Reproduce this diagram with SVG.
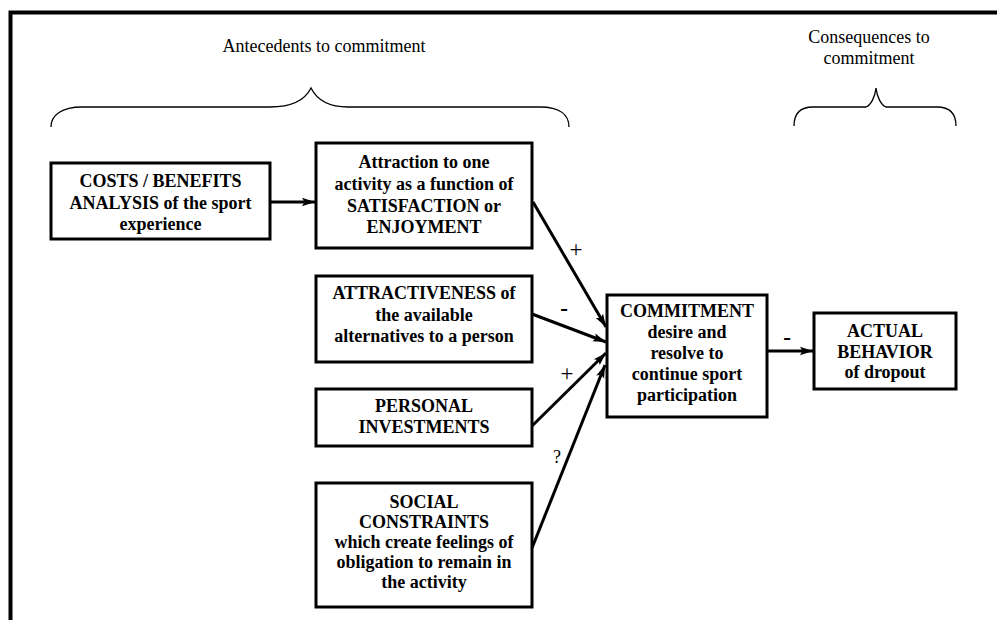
<svg xmlns="http://www.w3.org/2000/svg" width="997" height="620" viewBox="0 0 997 620">
  <style>
    .box { fill: #fff; stroke: #000; stroke-width: 3; }
    .t { font-family: "Liberation Serif", "Times New Roman", serif; font-size: 18px; font-weight: bold; text-anchor: middle; fill: #000; }
    .h { font-family: "Liberation Serif", "Times New Roman", serif; font-size: 18px; text-anchor: middle; fill: #000; }
    .lbl { font-family: "Liberation Serif", "Times New Roman", serif; font-size: 23px; text-anchor: middle; fill: #000; }
    .neg { font-weight: bold; }
    .edge { fill: none; stroke: #000; stroke-width: 3; marker-end: url(#arrow); }
    .brace { fill: none; stroke: #000; stroke-width: 1.3; }
  </style>
  <defs>
    <marker id="arrow" markerUnits="userSpaceOnUse" markerWidth="14" markerHeight="10" refX="13" refY="5" orient="auto">
      <path d="M0,0.8 L13,5 L0,9.2 L2.5,5 Z" fill="#000"/>
    </marker>
  </defs>

  <rect width="997" height="620" fill="#fff"/>

  <!-- outer frame (top and left edges) -->
  <path d="M997,12.5 H10.5 V620" fill="none" stroke="#000" stroke-width="4"/>

  <!-- section headings and braces -->
  <g id="antecedents-heading">
    <text class="h" x="324" y="52">Antecedents to commitment</text>
    <path class="brace" d="M51,127 C51,115 62,107 82,107 H270 C292,107 305,100 311,88 C317,100 330,107 348,107 H540 C560,107 569,115 569,127"/>
  </g>
  <g id="consequences-heading">
    <text class="h" x="869" y="43">Consequences to</text>
    <text class="h" x="869" y="64">commitment</text>
    <path class="brace" d="M794,126 C794,114 800,107 813,107 H866 C871,105 875,97 876,88 C877,97 881,105 886,107 H937 C950,107 956,114 956,126"/>
  </g>

  <!-- nodes -->
  <g id="costs-benefits">
    <rect class="box" x="51" y="163" width="219" height="76"/>
    <text class="t" x="160.5" y="187">COSTS / BENEFITS</text>
    <text class="t" x="160.5" y="209">ANALYSIS of the sport</text>
    <text class="t" x="160.5" y="230">experience</text>
  </g>
  <g id="attraction">
    <rect class="box" x="316" y="143" width="216" height="105"/>
    <text class="t" x="424" y="168">Attraction to one</text>
    <text class="t" x="424" y="190">activity as a function of</text>
    <text class="t" x="424" y="212">SATISFACTION or</text>
    <text class="t" x="424" y="233">ENJOYMENT</text>
  </g>
  <g id="alternatives">
    <rect class="box" x="316" y="276" width="216" height="86"/>
    <text class="t" x="424" y="299">ATTRACTIVENESS of</text>
    <text class="t" x="424" y="321">the available</text>
    <text class="t" x="424" y="342">alternatives to a person</text>
  </g>
  <g id="investments">
    <rect class="box" x="316" y="389" width="216" height="57"/>
    <text class="t" x="424" y="412">PERSONAL</text>
    <text class="t" x="424" y="433">INVESTMENTS</text>
  </g>
  <g id="social-constraints">
    <rect class="box" x="316" y="483" width="216" height="124"/>
    <text class="t" x="424" y="508">SOCIAL</text>
    <text class="t" x="424" y="528">CONSTRAINTS</text>
    <text class="t" x="424" y="548">which create feelings of</text>
    <text class="t" x="424" y="568">obligation to remain in</text>
    <text class="t" x="424" y="588">the activity</text>
  </g>
  <g id="commitment">
    <rect class="box" x="607" y="295" width="160" height="122"/>
    <text class="t" x="687" y="317">COMMITMENT</text>
    <text class="t" x="687" y="338">desire and</text>
    <text class="t" x="687" y="359">resolve to</text>
    <text class="t" x="687" y="380">continue sport</text>
    <text class="t" x="687" y="401">participation</text>
  </g>
  <g id="dropout">
    <rect class="box" x="814" y="313" width="142" height="76"/>
    <text class="t" x="885" y="337">ACTUAL</text>
    <text class="t" x="885" y="358">BEHAVIOR</text>
    <text class="t" x="885" y="378">of dropout</text>
  </g>

  <!-- connectors -->
  <g id="connectors">
    <line class="edge" x1="270" y1="202" x2="315" y2="202"/>
    <line class="edge" x1="533" y1="202" x2="606" y2="327"/>
    <line class="edge" x1="532" y1="314" x2="606" y2="342"/>
    <line class="edge" x1="532" y1="426" x2="606" y2="353"/>
    <line class="edge" x1="532" y1="548" x2="605" y2="365"/>
    <line class="edge" x1="767" y1="351" x2="813" y2="351"/>
    <text class="lbl" x="576" y="257">+</text>
    <text class="lbl neg" x="564" y="316">-</text>
    <text class="lbl" x="567" y="381">+</text>
    <text class="h" x="557" y="463">?</text>
    <text class="lbl neg" x="787" y="345">-</text>
  </g>
</svg>
